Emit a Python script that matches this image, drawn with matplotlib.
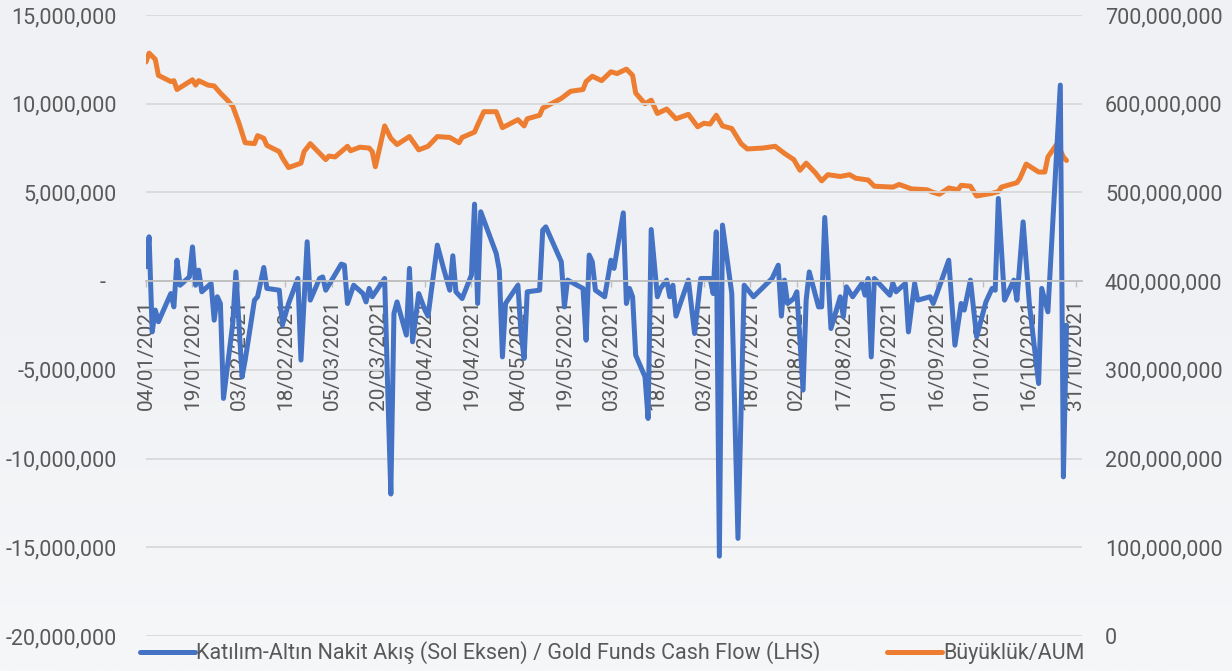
import matplotlib
matplotlib.use('Agg')
import matplotlib.pyplot as plt
import numpy as np
import pandas as pd
from matplotlib.colors import LinearSegmentedColormap
from matplotlib.ticker import FixedLocator, FixedFormatter

plt.rcParams['font.family'] = ['Roboto', 'DejaVu Sans']

# ---------------- data ----------------
flow_dates = [
    "2021-01-04", "2021-01-05", "2021-01-06", "2021-01-07", "2021-01-08", "2021-01-12", "2021-01-13", "2021-01-14", "2021-01-15", "2021-01-18",
    "2021-01-19", "2021-01-20", "2021-01-21", "2021-01-22", "2021-01-25", "2021-01-26", "2021-01-27", "2021-01-28", "2021-01-29", "2021-02-01",
    "2021-02-02", "2021-02-04", "2021-02-05", "2021-02-08", "2021-02-09", "2021-02-11", "2021-02-12", "2021-02-16", "2021-02-17", "2021-02-19",
    "2021-02-22", "2021-02-23", "2021-02-25", "2021-02-26", "2021-03-01", "2021-03-02", "2021-03-03", "2021-03-08", "2021-03-09", "2021-03-10",
    "2021-03-12", "2021-03-15", "2021-03-16", "2021-03-17", "2021-03-18", "2021-03-22", "2021-03-23", "2021-03-24", "2021-03-25", "2021-03-26",
    "2021-03-29", "2021-03-30", "2021-03-31", "2021-04-02", "2021-04-04", "2021-04-05", "2021-04-08", "2021-04-10", "2021-04-12", "2021-04-13",
    "2021-04-14", "2021-04-16", "2021-04-19", "2021-04-20", "2021-04-21", "2021-04-22", "2021-04-27", "2021-04-28", "2021-04-29", "2021-04-30",
    "2021-05-04", "2021-05-05", "2021-05-06", "2021-05-07", "2021-05-11", "2021-05-12", "2021-05-13", "2021-05-18", "2021-05-19", "2021-05-20",
    "2021-05-25", "2021-05-26", "2021-05-27", "2021-05-28", "2021-05-29", "2021-06-01", "2021-06-03", "2021-06-04", "2021-06-07", "2021-06-08",
    "2021-06-09", "2021-06-10", "2021-06-11", "2021-06-14", "2021-06-15", "2021-06-16", "2021-06-18", "2021-06-19", "2021-06-21", "2021-06-22",
    "2021-06-23", "2021-06-24", "2021-06-28", "2021-06-30", "2021-07-02", "2021-07-05", "2021-07-06", "2021-07-07", "2021-07-08", "2021-07-09",
    "2021-07-12", "2021-07-14", "2021-07-16", "2021-07-19", "2021-07-25", "2021-07-27", "2021-07-28", "2021-07-29", "2021-07-30", "2021-08-01",
    "2021-08-02", "2021-08-04", "2021-08-05", "2021-08-06", "2021-08-09", "2021-08-10", "2021-08-11", "2021-08-13", "2021-08-16", "2021-08-17",
    "2021-08-18", "2021-08-20", "2021-08-23", "2021-08-24", "2021-08-25", "2021-08-26", "2021-08-27", "2021-09-01", "2021-09-02", "2021-09-03",
    "2021-09-06", "2021-09-07", "2021-09-09", "2021-09-10", "2021-09-14", "2021-09-15", "2021-09-16", "2021-09-20", "2021-09-22", "2021-09-24",
    "2021-09-25", "2021-09-27", "2021-09-29", "2021-10-02", "2021-10-04", "2021-10-05", "2021-10-06", "2021-10-08", "2021-10-11", "2021-10-12",
    "2021-10-14", "2021-10-16", "2021-10-19", "2021-10-20", "2021-10-22", "2021-10-26", "2021-10-27", "2021-10-28",
]
flow_millions = [
    0.81, 2.5, -2.86, -1.63, -2.29, -0.7, -1.45, 1.18, -0.23, 0.24,
    1.93, -0.23, 0.62, -0.6, -0.13, -2.2, -0.88, -1.26, -6.61, -2.38,
    0.52, -5.39, -4.45, -1.07, -0.88, 0.77, -0.41, -0.51, -2.48, -1.26,
    0.15, -4.45, 2.22, -1.07, 0.15, 0.24, -0.51, 0.96, 0.9, -1.26,
    -0.23, -0.7, -1.17, -0.41, -0.88, 0.15, -6.14, -12.0, -1.82, -1.17,
    -3.04, 0.72, -3.42, -0.7, -1.63, -1.97, 2.03, 0.72, -0.51, 1.43,
    -0.6, -0.98, 0.34, 4.34, -1.26, 3.91, 1.56, 0.62, -4.27, -1.26,
    -0.23, -2.95, -4.36, -0.6, -0.51, 2.87, 3.06, 1.09, -1.45, 0.06,
    -0.41, -3.33, 1.47, 1.09, -0.51, -0.88, 1.18, 0.72, 3.85, -1.26,
    -0.41, -0.88, -4.17, -5.39, -7.74, 2.91, -0.88, -0.41, 0.06, -0.88,
    -0.23, -1.97, 0.06, -2.95, 0.15, 0.15, -0.7, 2.78, -15.5, 3.16,
    -0.7, -14.5, -0.23, -0.88, 0.15, 0.9, -1.97, 0.06, -1.26, -0.98,
    -0.6, -6.14, -1.07, 0.52, -1.45, -1.45, 3.59, -2.67, -0.88, -2.01,
    -0.32, -0.88, -0.13, -0.79, 0.15, -4.27, 0.15, -0.79, -0.13, -0.6,
    -0.13, -2.86, -0.13, -1.07, -0.88, -1.26, -0.79, 1.18, -3.61, -1.26,
    -1.63, 0.06, -3.14, -1.17, -0.41, -0.51, 4.66, -1.07, 0.06, -1.07,
    3.34, -1.26, -5.77, -0.41, -1.73, 11.05, -11.03, -2.48,
]

aum_dates = [
    "2021-01-04", "2021-01-05", "2021-01-07", "2021-01-08", "2021-01-12", "2021-01-13", "2021-01-14", "2021-01-19", "2021-01-20", "2021-01-21",
    "2021-01-24", "2021-01-26", "2021-01-28", "2021-01-30", "2021-02-01", "2021-02-03", "2021-02-05", "2021-02-08", "2021-02-09", "2021-02-11",
    "2021-02-12", "2021-02-16", "2021-02-17", "2021-02-19", "2021-02-23", "2021-02-24", "2021-02-26", "2021-03-03", "2021-03-04", "2021-03-06",
    "2021-03-10", "2021-03-11", "2021-03-14", "2021-03-17", "2021-03-18", "2021-03-19", "2021-03-22", "2021-03-24", "2021-03-26", "2021-03-30",
    "2021-04-02", "2021-04-05", "2021-04-08", "2021-04-12", "2021-04-15", "2021-04-16", "2021-04-20", "2021-04-21", "2021-04-23", "2021-04-27",
    "2021-04-29", "2021-05-04", "2021-05-06", "2021-05-07", "2021-05-11", "2021-05-12", "2021-05-18", "2021-05-21", "2021-05-25", "2021-05-26",
    "2021-05-28", "2021-05-31", "2021-06-03", "2021-06-05", "2021-06-08", "2021-06-10", "2021-06-11", "2021-06-14", "2021-06-16", "2021-06-18",
    "2021-06-21", "2021-06-24", "2021-06-28", "2021-07-01", "2021-07-03", "2021-07-05", "2021-07-07", "2021-07-09", "2021-07-12", "2021-07-15",
    "2021-07-17", "2021-07-22", "2021-07-26", "2021-07-29", "2021-08-01", "2021-08-03", "2021-08-05", "2021-08-08", "2021-08-10", "2021-08-12",
    "2021-08-16", "2021-08-19", "2021-08-21", "2021-08-25", "2021-08-27", "2021-09-02", "2021-09-04", "2021-09-08", "2021-09-13", "2021-09-15",
    "2021-09-17", "2021-09-20", "2021-09-23", "2021-09-24", "2021-09-27", "2021-09-29", "2021-10-04", "2021-10-06", "2021-10-07", "2021-10-12",
    "2021-10-13", "2021-10-15", "2021-10-19", "2021-10-21", "2021-10-22", "2021-10-25", "2021-10-27", "2021-10-28",
]
aum_millions = [
    647, 657, 650, 632, 625, 626, 616, 627, 621, 626,
    621, 620, 612, 605, 597, 578, 556, 555, 564, 561,
    553, 546, 539, 528, 533, 546, 555, 537, 541, 540,
    552, 547, 551, 550, 546, 529, 575, 561, 554, 563,
    548, 552, 563, 562, 556, 562, 568, 576, 591, 591,
    573, 582, 575, 583, 587, 595, 606, 614, 616, 625,
    631, 626, 636, 634, 639, 632, 612, 600, 604, 589,
    594, 583, 588, 574, 578, 577, 587, 575, 572, 555,
    549, 550, 552, 544, 537, 525, 533, 522, 513, 520,
    518, 520, 516, 514, 507, 506, 509, 504, 503, 500,
    498, 505, 503, 508, 507, 496, 499, 501, 506, 511,
    516, 532, 523, 523, 540, 555, 540, 536,
]

left_ticks = [-20e6, -15e6, -10e6, -5e6, 0, 5e6, 10e6, 15e6]
left_labels = ["-20,000,000", "-15,000,000", "-10,000,000", "-5,000,000", "-  ",
               "5,000,000", "10,000,000", "15,000,000"]
right_ticks = [0, 100e6, 200e6, 300e6, 400e6, 500e6, 600e6, 700e6]
right_labels = ["0", "100,000,000", "200,000,000", "300,000,000", "400,000,000",
                "500,000,000", "600,000,000", "700,000,000"]
x_tick_dates = pd.date_range("2021-01-04", "2021-10-31", freq="15D")

series_flow = "Katılım-Altın Nakit Akış (Sol Eksen) / Gold Funds Cash Flow (LHS)"
series_aum = "Büyüklük/AUM"

# ---------------- figure ----------------
W, H = 1232, 671
fig = plt.figure(figsize=(W / 100, H / 100), dpi=100)
fig.patch.set_facecolor('#f2f3f5')

bg = fig.add_axes([0, 0, 1, 1], zorder=-10)
grad = np.linspace(0, 1, 256).reshape(-1, 1)
cmap = LinearSegmentedColormap.from_list('bg', ['#eff1f4', '#f1f2f5', '#f6f7f9'])
bg.imshow(grad, aspect='auto', cmap=cmap, extent=[0, 1, 0, 1], origin='upper')
bg.axis('off')

left, right, top, bottom = 146, 1082, 15, 636
ax = fig.add_axes([left / W, 1 - bottom / H, (right - left) / W, (bottom - top) / H])
ax2 = ax.twinx()
ax.set_zorder(ax2.get_zorder() + 1)
ax.patch.set_visible(False)
ax2.patch.set_visible(False)

fd = pd.to_datetime(flow_dates)
ad = pd.to_datetime(aum_dates)
flow_vals = np.array(flow_millions) * 1e6
aum_vals = np.array(aum_millions) * 1e6

l1, = ax.plot(fd, flow_vals, color='#4472C4', lw=3.6, solid_joinstyle='round',
              solid_capstyle='round', label=series_flow)
l2, = ax2.plot(ad, aum_vals, color='#ED7D31', lw=3.6, solid_joinstyle='round',
               solid_capstyle='round', label=series_aum)

ax.set_xlim(pd.Timestamp("2021-01-04"), pd.Timestamp("2021-11-02"))
ax.set_ylim(-20e6, 15e6)
ax2.set_ylim(0, 700e6)

grid_c = '#d9d9d9'
text_c = '#595959'

ax.yaxis.set_major_locator(FixedLocator(left_ticks))
ax.yaxis.set_major_formatter(FixedFormatter(left_labels))
ax2.yaxis.set_major_locator(FixedLocator(right_ticks))
ax2.yaxis.set_major_formatter(FixedFormatter(right_labels))
ax.grid(axis='y', color=grid_c, lw=1.3)
ax.set_axisbelow(True)

ax.set_xticks(x_tick_dates)
ax.set_xticklabels([d.strftime('%d/%m/%Y') for d in x_tick_dates])

for a in (ax, ax2):
    for s in ('top', 'left', 'right'):
        a.spines[s].set_visible(False)
ax2.spines['bottom'].set_visible(False)
ax.spines['bottom'].set_position(('data', 0))
ax.spines['bottom'].set_color('#bfbfbf')
ax.spines['bottom'].set_linewidth(1.3)

ax.tick_params(axis='x', direction='out', length=4.3, width=1, color='#bfbfbf',
               labelsize=15, labelcolor=text_c, pad=8.5, labelrotation=90)
for lab in ax.get_xticklabels():
    lab.set_rotation(90)
    lab.set_va('top')
    lab.set_ha('center')
ax.tick_params(axis='y', length=0, labelsize=15.5, labelcolor=text_c, pad=21)
ax2.tick_params(axis='y', length=0, labelsize=15.5, labelcolor=text_c, pad=16.5)

fig.legend([l1, l2], [series_flow, series_aum], loc='center',
           bbox_to_anchor=(0.497, 1 - 653 / H), ncol=2, frameon=False,
           fontsize=15.5, handlelength=2.56, handletextpad=0.05, columnspacing=3.1,
           labelcolor=text_c, borderaxespad=0, borderpad=0)

fig.savefig('out.png', dpi=100, facecolor=fig.get_facecolor())
